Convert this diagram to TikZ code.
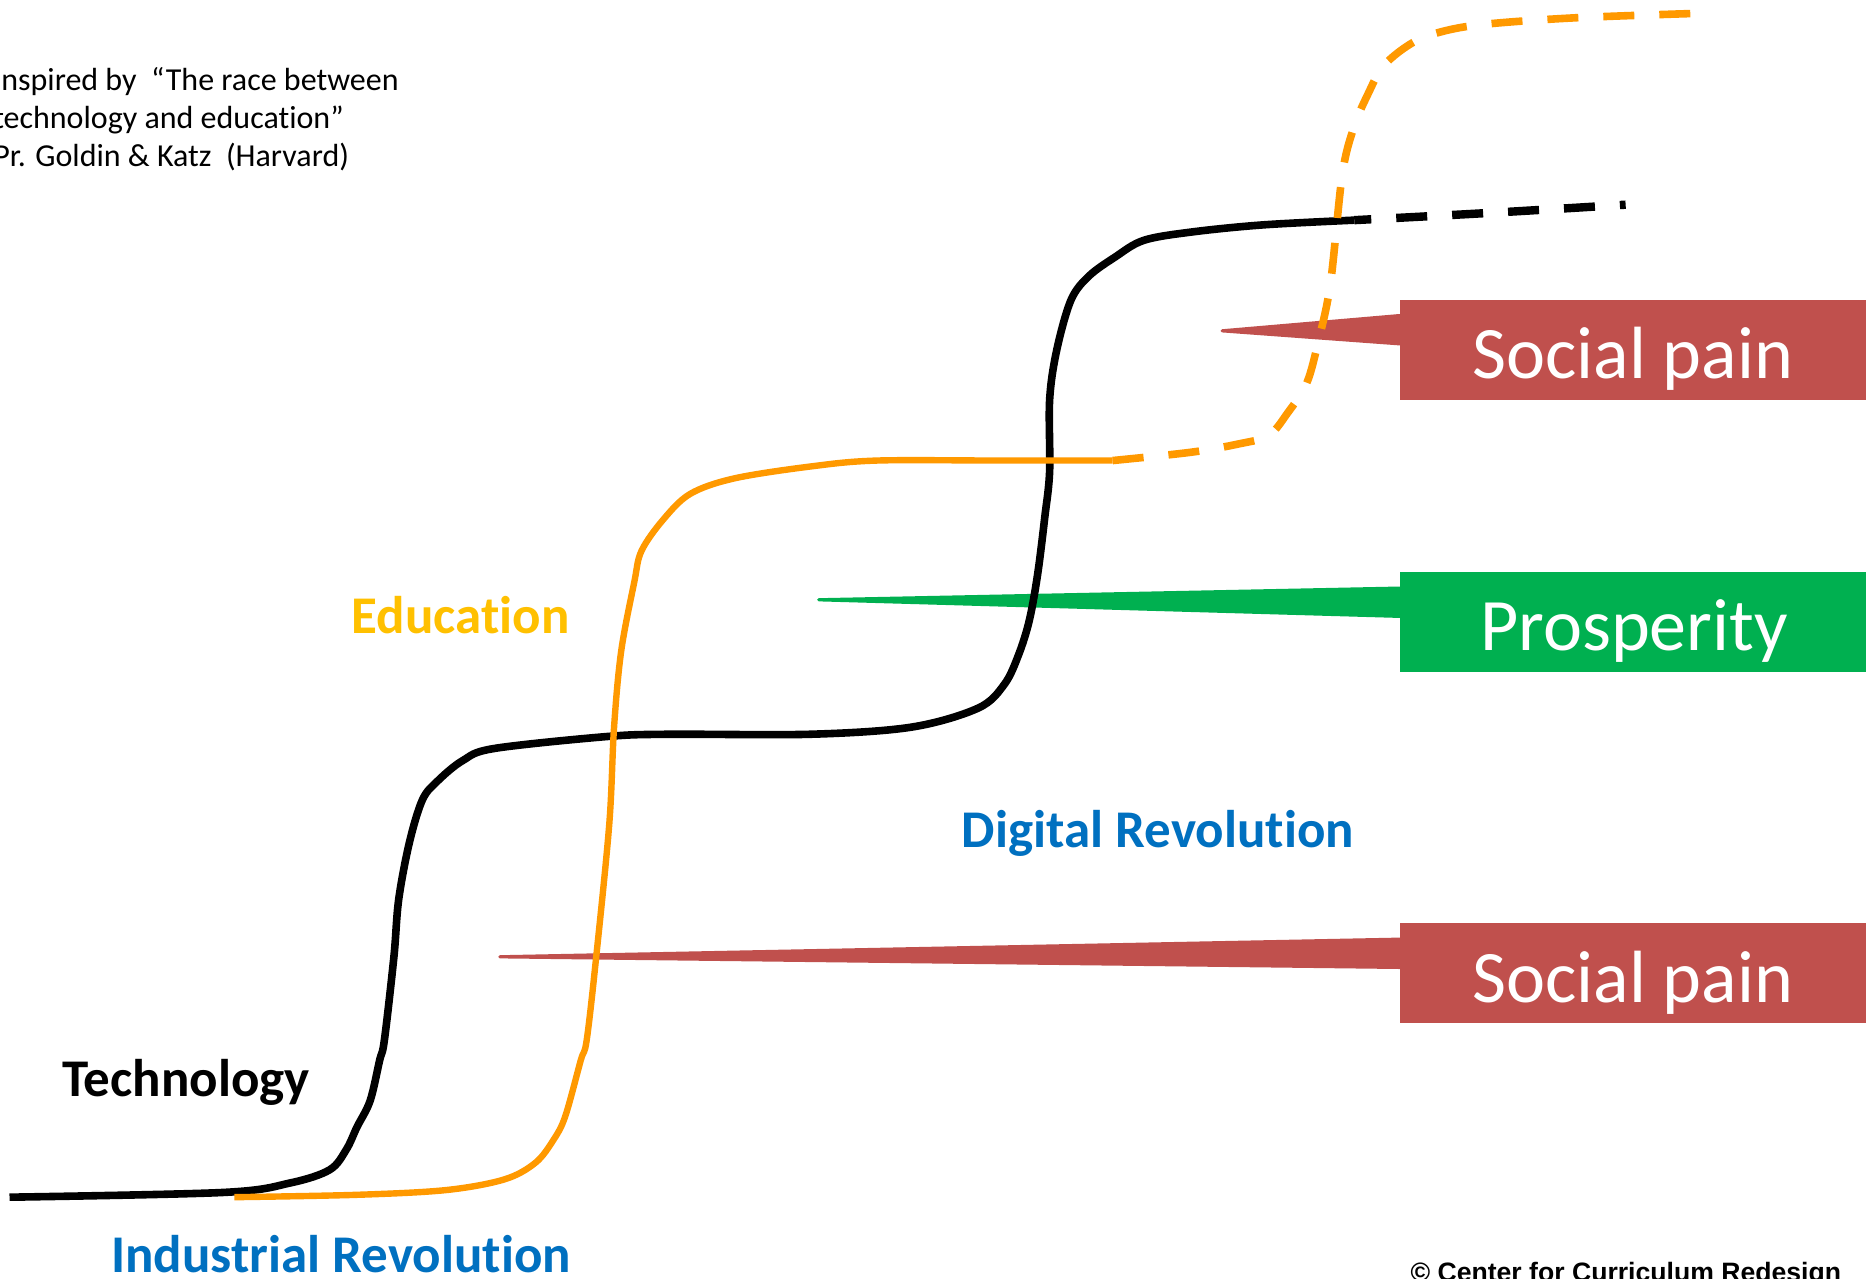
\documentclass[tikz,border=0pt]{standalone}
\usepackage{fontspec}
\setmainfont{Carlito}[Ligatures={NoCommon}]
\newfontfamily\arialfont{Liberation Sans}
\usetikzlibrary{calc}
\definecolor{techblack}{RGB}{0,0,0}
\definecolor{eduorange}{RGB}{255,153,0}
\definecolor{eduyellow}{RGB}{255,192,0}
\definecolor{revblue}{RGB}{0,112,192}
\definecolor{painred}{RGB}{192,80,77}
\definecolor{prosgreen}{RGB}{0,176,80}
\tikzset{
  techline/.style={draw=techblack, line width=3.8pt, line join=round},
  eduline/.style={draw=eduorange, line width=3.2pt, line join=round},
  dashpat/.style={dash pattern=on 15.5pt off 12.5pt},
  callbox/.style={rectangle, inner sep=0pt, minimum width=233.3pt, minimum height=50pt, anchor=west},
  calltext/.style={text=white, font=\fontsize{37}{41}\selectfont, anchor=base, inner sep=0pt},
  pointer/.style={line width=1.6pt, line join=round},
  biglabel/.style={font=\fontsize{26.5}{30}\selectfont\bfseries, anchor=base west, inner sep=0pt},
  notelabel/.style={font=\fontsize{16}{19}\selectfont, anchor=base west, inner sep=0pt}
}
\begin{document}
\begin{tikzpicture}[x=0.595pt, y=-0.595pt]
\useasboundingbox (0,0) rectangle (1568,1074);
\fill[white] (0,0) rectangle (1568,1074);

% Callout boxes
\node[callbox, fill=painred] (sp1) at (1176,294) {};
\node[callbox, fill=prosgreen] (pros) at (1176,523) {};
\node[callbox, fill=painred] (sp2) at (1176,818) {};

\coordinate (tip1) at (1027,278);
\coordinate (tip2) at (688,504);
\coordinate (tip3) at (420,804);

\filldraw[pointer, painred] (tip1) -- ($(sp1.north west)!0.16!(sp1.south west)$) -- ($(sp1.north west)!0.44!(sp1.south west)$) -- cycle;
\filldraw[pointer, prosgreen] (tip2) -- ($(pros.north west)!0.16!(pros.south west)$) -- ($(pros.north west)!0.44!(pros.south west)$) -- cycle;
\filldraw[pointer, painred] (tip3) -- ($(sp2.north west)!0.16!(sp2.south west)$) -- ($(sp2.north west)!0.44!(sp2.south west)$) -- cycle;

\node[calltext] (sp1t) at (1372,318) {Social pain};
\node[calltext] (prost) at (1373,547) {Prosperity};
\node[calltext] (sp2t) at (1372,842) {Social pain};

% Technology curve
\draw[techline] plot[smooth, tension=0.55] coordinates {
(8,1006) (188,1002) (244,994) (277,983) (291,966) (300,947) (311,925) (319,891) (323,874)
(331,804) (335,756) (344,708) (355,672) (368,656) (389,639) (415,629) (509,619) (561,617)
(681,617) (766,611) (822,595) (844,575) (856,550) (865,521) (872,482) (878,434) (882,396)
(882,336) (888,294) (900,252) (915,232) (937,216) (961,202) (1001,195) (1061,189) (1138,185)};
\draw[techline, line width=4.2pt, dashpat, dash phase=7pt, line join=miter] plot[smooth, tension=0.55] coordinates {
(1138,185) (1250,179) (1366,172)};

% Education curve
\draw[eduline] plot[smooth, tension=0.55] coordinates {
(197,1006) (300,1004) (375,1000) (424,991) (450,977) (465,958) (475,938) (488,891) (493,874)
(501,804) (512,692) (516,611) (522,547) (533,489) (539,463) (557,437) (580,415) (617,402)
(681,392) (737,387) (840,387) (935,387)};
\draw[eduline, line width=3.8pt, dashpat] plot[smooth, tension=0.55] coordinates {
(935,387) (1001,380) (1041,373) (1066,366) (1082,347) (1098,322) (1108,286) (1118,238)
(1128,146) (1138,106) (1150,78) (1162,56) (1182,39) (1203,29) (1242,21) (1323,15) (1434,11)};

% Labels
\node[notelabel] (note1) at (-6,76) {Inspired by \ “The race between};
\node[notelabel] (note2) at (-6,108) {technology and education”};
\node[notelabel] (note3) at (-6,140) {Pr. Goldin \& Katz \ (Harvard)};

\node[biglabel, text=eduyellow] (edu) at (295,532) {Education};
\node[biglabel, text=techblack] (tech) at (52,921) {Technology};
\node[biglabel, text=revblue] (digi) at (808,712) {Digital Revolution};
\node[biglabel, text=revblue] (indu) at (93,1069) {Industrial Revolution};
\node[anchor=base west, inner sep=0pt, font=\arialfont\bfseries\fontsize{13.3}{15}\selectfont] (copy) at (1185,1077) {© Center for Curriculum Redesign};
\end{tikzpicture}
\end{document}
